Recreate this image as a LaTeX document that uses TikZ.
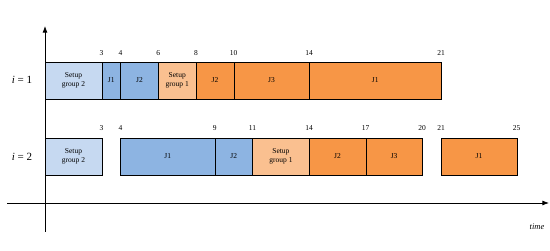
\documentclass[tikz,border=0pt]{standalone}
\usepackage{fontspec}
\setmainfont{Liberation Serif}
\usepackage{tikz}
\usetikzlibrary{arrows.meta,positioning}
\definecolor{setupblue}{HTML}{C6D9F1}
\definecolor{jobblue}{HTML}{8DB4E2}
\definecolor{setuporange}{HTML}{FAC090}
\definecolor{joborange}{HTML}{F79646}
\newlength{\tu}
\setlength{\tu}{18.86pt}

\begin{document}
\begin{tikzpicture}[x=1pt,y=1pt, >=Latex,
  slot/.style={draw,anchor=south west,inner sep=0pt,minimum height=37pt,minimum width=#1\tu,align=center,font=\fontsize{7.5}{8.5}\selectfont},
  tick/.style={font=\fontsize{7.5}{8.5}\selectfont,anchor=base},
  rowlabel/.style={font=\fontsize{11}{13}\selectfont}]
\useasboundingbox (0,0) rectangle (550,251);
% axes
\coordinate (xa) at (7,48); \coordinate (xb) at (549,48);
\coordinate (ya) at (45,19); \coordinate (yb) at (45,225);
\draw[thick,->] (xa) -- (xb);
\draw[thick,->] (ya) -- (yb);
\node[font=\itshape\fontsize{8.5}{10}\selectfont] (time) at (537,24) {time};
\node[rowlabel] (row1) at (22,171) {\textit{i} = 1};
\node[rowlabel] (row2) at (22,94) {\textit{i} = 2};
\begin{scope}[x=\tu,shift={(45pt,0)}]
% row i = 1
\node[slot=3,fill=setupblue] (a1) at (0,152) {Setup\\group 2};
\node[slot=1,fill=jobblue] (a2) at (3,152) {J1};
\node[slot=2,fill=jobblue] (a3) at (4,152) {J2};
\node[slot=2,fill=setuporange] (a4) at (6,152) {Setup\\group 1};
\node[slot=2,fill=joborange] (a5) at (8,152) {J2};
\node[slot=4,fill=joborange] (a6) at (10,152) {J3};
\node[slot=7,fill=joborange] (a7) at (14,152) {J1};
\foreach \t in {3,4,6,8,10,14,21} \node[tick] (ta\t) at (\t,195) {\t};
% row i = 2
\node[slot=3,fill=setupblue] (b1) at (0,76) {Setup\\group 2};
\node[slot=5,fill=jobblue] (b2) at (4,76) {J1};
\node[slot=2,fill=jobblue] (b3) at (9,76) {J2};
\node[slot=3,fill=setuporange] (b4) at (11,76) {Setup\\group 1};
\node[slot=3,fill=joborange] (b5) at (14,76) {J2};
\node[slot=3,fill=joborange] (b6) at (17,76) {J3};
\node[slot=4,fill=joborange] (b7) at (21,76) {J1};
\foreach \t in {3,4,9,11,14,17,20,21,25} \node[tick] (tb\t) at (\t,120) {\t};
\end{scope}
\end{tikzpicture}
\end{document}
